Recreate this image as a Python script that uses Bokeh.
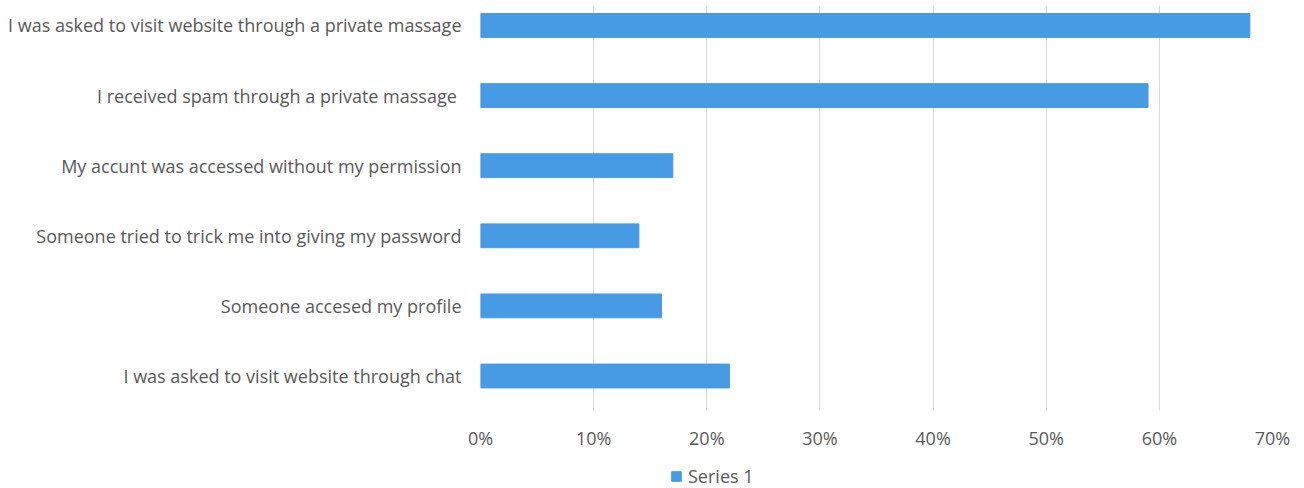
from bokeh.plotting import figure
from bokeh.layouts import column
from bokeh.models import FixedTicker, NumeralTickFormatter, Legend, LegendItem, ColumnDataSource, Range1d
from bokeh.embed import file_html
from bokeh.resources import INLINE

categories = [
    "I was asked to visit website through a private massage",
    "I  received spam through a private massage",
    "My accunt was accessed without my permission",
    "Someone tried to trick me into giving my password",
    "Someone accesed my profile",
    "I was asked to visit website through chat",
]
values = [0.68, 0.59, 0.17, 0.14, 0.16, 0.22]
x_ticks = [0.0, 0.1, 0.2, 0.3, 0.4, 0.5, 0.6, 0.7]
series_name = "Series 1"

n = len(categories)
ypos = [n - 1 - i for i in range(n)]
src = ColumnDataSource(dict(y=ypos, v=values, cat=categories))

FONT = "Open Sans"
TXT = "#595959"
BLUE = "#469BE4"

p = figure(width=1304, height=460, output_backend="svg", toolbar_location=None,
           x_range=Range1d(0, 0.70), y_range=Range1d(-0.492, 5.285),
           min_border_left=480, min_border_right=32, min_border_top=5, min_border_bottom=50)
p.outline_line_color = None
p.background_fill_color = "white"
p.border_fill_color = "white"

r = p.hbar(y="y", right="v", left=0, height=0.34, source=src, color=BLUE)

p.xaxis.ticker = FixedTicker(ticks=x_ticks)
p.xaxis.formatter = NumeralTickFormatter(format="0%")
p.yaxis.ticker = FixedTicker(ticks=ypos)
p.yaxis.major_label_overrides = {yy: c for yy, c in zip(ypos, categories)}

for ax in (p.xaxis, p.yaxis):
    ax.axis_line_color = None
    ax.major_tick_line_color = None
    ax.minor_tick_line_color = None
    ax.major_label_text_font = FONT
    ax.major_label_text_font_size = "18px"
    ax.major_label_text_color = TXT
p.xaxis.major_label_standoff = 9
p.yaxis.major_label_standoff = 13

p.xgrid.ticker = FixedTicker(ticks=x_ticks)
p.xgrid.grid_line_color = "#D9D9D9"
p.xgrid.grid_line_width = 1
p.ygrid.grid_line_color = None

# legend strip (frame is aligned with the main plot's frame by the column layout)
lg = figure(width=1304, height=28, output_backend="svg", toolbar_location=None,
            x_range=Range1d(0, 1), y_range=Range1d(0, 1),
            min_border_left=0, min_border_right=0, min_border_top=0, min_border_bottom=0)
lg.outline_line_color = None
lg.axis.visible = False
lg.grid.visible = False
# hidden proxy renderer (one series value placed outside the visible range) used only for the legend swatch
lr = lg.hbar(y=[-5], right=values[:1], left=0, height=0.5, color=BLUE)
legend = Legend(items=[LegendItem(label=series_name, renderers=[lr])],
                location=(190, 0), orientation="horizontal",
                glyph_width=12, glyph_height=12, label_standoff=6, padding=0, margin=0,
                spacing=0, border_line_color=None, background_fill_alpha=0,
                label_text_font=FONT, label_text_font_size="18px", label_text_color=TXT)
lg.add_layout(legend, "center")

layout = column(p, lg, spacing=0)
open("out.html", "w").write(file_html(layout, INLINE))
